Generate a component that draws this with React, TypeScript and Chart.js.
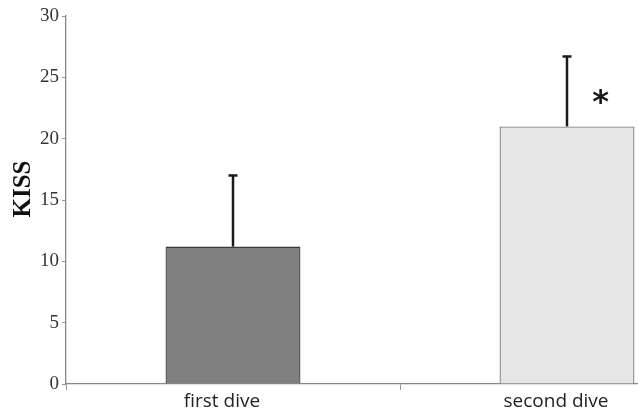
import React, { useEffect, useRef } from "react";
import { Chart, registerables } from "chart.js";

Chart.register(...registerables);

const categories = ["first dive", "second dive"];
const means = [11.2, 21.0];
const errors = [5.8, 5.7];
const sigMarks = ["", "*"];
const yTitle = "KISS";
const barColors = ["#808080", "#e6e6e6"];
const borderColors = ["#3a3a3a", "#7a7a7a"];
const yTicks = [0, 5, 10, 15, 20, 25, 30];

const errorBarPlugin = {
  id: "errorBars",
  afterDatasetsDraw(chart: any) {
    const { ctx, scales } = chart;
    const x = scales.x;
    const y = scales.y;
    const meta = chart.getDatasetMeta(0);
    ctx.save();
    means.forEach((m, i) => {
      const bar = meta.data[i];
      const cx = x.getPixelForValue(i);
      const yTop = y.getPixelForValue(m);
      const yErr = y.getPixelForValue(m + errors[i]);
      ctx.strokeStyle = "#1a1a1a";
      ctx.lineWidth = 2.5;
      ctx.beginPath();
      ctx.moveTo(cx, yTop);
      ctx.lineTo(cx, yErr);
      ctx.stroke();
      ctx.beginPath();
      ctx.moveTo(cx - 4.5, yErr);
      ctx.lineTo(cx + 4.5, yErr);
      ctx.stroke();
      if (sigMarks[i]) {
        const w = bar.width;
        ctx.fillStyle = "#1a1a1a";
        ctx.font = "bold 32px 'DejaVu Sans', sans-serif";
        ctx.textAlign = "center";
        ctx.textBaseline = "middle";
        ctx.fillText(sigMarks[i], cx + w * 0.25, y.getPixelForValue(m + errors[i] * 0.4) + 5);
      }
    });
    // y-axis title
    ctx.translate(24, (chart.chartArea.top + chart.chartArea.bottom) / 2 - 11);
    ctx.rotate(-Math.PI / 2);
    ctx.fillStyle = "#111111";
    ctx.font = "bold 25px 'Liberation Serif', 'Times New Roman', serif";
    ctx.textAlign = "center";
    ctx.textBaseline = "middle";
    ctx.fillText(yTitle, 0, 0);
    ctx.restore();
  },
};

export default function App() {
  const ref = useRef<HTMLCanvasElement>(null);
  useEffect(() => {
    const canvas = ref.current!;
    const chart = new Chart(canvas, {
      type: "bar",
      data: {
        labels: categories,
        datasets: [
          {
            data: means,
            backgroundColor: barColors,
            borderColor: borderColors,
            borderWidth: 1.3,
            barPercentage: 0.404,
            categoryPercentage: 1,
          },
        ],
      },
      options: {
        responsive: false,
        animation: false,
        devicePixelRatio: 1,
        layout: { padding: { top: 16, left: 0, right: 0, bottom: 0 } },
        plugins: { legend: { display: false }, tooltip: { enabled: false } },
        scales: {
          x: {
            type: "category",
            offset: true,
            grid: {
              offset: true,
              drawOnChartArea: false,
              drawTicks: true,
              tickLength: 6,
              color: "#999999",
            },
            border: { display: true, color: "#888888", width: 1.3 },
            ticks: {
              color: "#222222",
              font: { family: "'Open Sans', 'Noto Sans', sans-serif", size: 19 },
              padding: 0,
              labelOffset: -11,
              maxRotation: 0,
              autoSkip: false,
            },
            afterFit(scale: any) {
              scale.height = 32;
            },
          },
          y: {
            min: 0,
            max: 30,
            afterBuildTicks(scale: any) {
              scale.ticks = yTicks.map((v) => ({ value: v }));
            },
            grid: {
              drawOnChartArea: false,
              drawTicks: true,
              tickLength: 4,
              color: "#999999",
            },
            border: { display: true, color: "#888888", width: 1.3 },
            ticks: {
              color: "#333333",
              font: { family: "'Liberation Serif', 'Times New Roman', serif", size: 19 },
              padding: 3,
            },
            afterFit(scale: any) {
              scale.width = 66;
            },
          },
        },
      },
      plugins: [errorBarPlugin],
    });
    return () => chart.destroy();
  }, []);
  return (
    <div
      style={{
        position: "absolute",
        left: 0,
        top: 0,
        width: 638,
        height: 416,
        overflow: "hidden",
        background: "#ffffff",
      }}
    >
      <canvas ref={ref} width={734} height={416} style={{ display: "block" }} />
    </div>
  );
}
